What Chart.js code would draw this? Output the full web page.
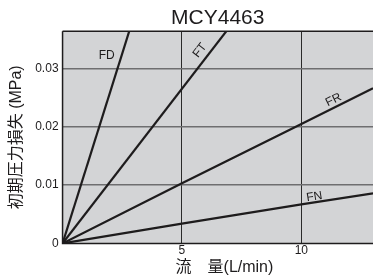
<!DOCTYPE html>
<html><head><meta charset="utf-8">
<script src="https://cdn.jsdelivr.net/npm/chart.js@4.4.1/dist/chart.umd.min.js"></script>
<style>html,body{margin:0;padding:0;background:#fff;}#wrap{width:373px;height:277px;}</style>
</head><body><div id="wrap"><canvas id="c"></canvas></div>
<script>
const seriesNames = ["FD", "FT", "FR", "FN"];
const flowFD = [0, 3];
const dropFD = [0, 0.0391];
const flowFT = [0, 7.5];
const dropFT = [0, 0.0398];
const flowFR = [0, 5, 10, 13];
const dropFR = [0, 0.0103, 0.0205, 0.0266];
const flowFN = [0, 5, 10, 13];
const dropFN = [0, 0.0034, 0.0067, 0.0086];
const xTicks = [0, 5, 10];
const yTicks = [0, 0.01, 0.02, 0.03];
// label anchor points in data units with rotation (degrees)
const labelX = [1.85, 5.75, 11.35, 10.55];
const labelY = [0.0322, 0.0331, 0.0246, 0.0080];
const labelRot = [0, -52, -26, -9];

const flows = [flowFD, flowFT, flowFR, flowFN];
const drops = [dropFD, dropFT, dropFR, dropFN];
const datasets = seriesNames.map((n, i) => ({
  label: n,
  data: flows[i].map((x, j) => ({x, y: drops[i][j]})),
  borderColor: '#1e1c1d', borderWidth: 2.2, pointRadius: 0, fill: false, tension: 0
}));

const fontLatin = '"Liberation Sans", Arial, sans-serif';
const fontJP = '"Liberation Sans", "Noto Sans CJK JP", sans-serif';

const bgPlugin = {
  id: 'bg',
  beforeDraw(chart) {
    const {ctx, chartArea: a} = chart;
    ctx.save(); ctx.fillStyle = '#d3d4d6';
    ctx.fillRect(a.left, a.top, a.right - a.left, a.bottom - a.top);
    ctx.restore();
  },
  afterDatasetsDraw(chart) {
    const {ctx, chartArea: a, scales} = chart;
    ctx.save();
    ctx.strokeStyle = '#1e1c1d'; ctx.lineWidth = 1.5;
    ctx.beginPath(); ctx.moveTo(a.left, a.top); ctx.lineTo(a.right, a.top); ctx.stroke();
    ctx.beginPath(); ctx.moveTo(a.left, a.top); ctx.lineTo(a.left, a.bottom); ctx.lineTo(a.right, a.bottom); ctx.stroke();
    ctx.fillStyle = '#1e1c1d';
    ctx.font = '12px ' + fontLatin;
    ctx.textAlign = 'center'; ctx.textBaseline = 'middle';
    seriesNames.forEach((n, i) => {
      const px = scales.x.getPixelForValue(labelX[i]);
      const py = scales.y.getPixelForValue(labelY[i]);
      ctx.save(); ctx.translate(px, py); ctx.rotate(labelRot[i] * Math.PI / 180);
      ctx.fillText(n, 0, 0); ctx.restore();
    });
    ctx.restore();
  }
};

new Chart(document.getElementById('c'), {
  type: 'line',
  data: {datasets},
  plugins: [bgPlugin],
  options: {
    responsive: true, maintainAspectRatio: false, animation: false,
    layout: {padding: {left: 7, right: 0, top: 0, bottom: 0}},
    plugins: {
      legend: {display: false}, tooltip: {enabled: false},
      title: {display: true, fullSize: false, text: 'MCY4463', color: '#1e1c1d',
        font: {family: fontLatin, size: 21, weight: 'normal'}, padding: {top: 6, bottom: 0}}
    },
    scales: {
      x: {
        type: 'linear', min: 0, max: 13,
        afterBuildTicks: s => { s.ticks = xTicks.map(v => ({value: v})); },
        ticks: {color: '#1e1c1d', font: {family: fontLatin, size: 12}, padding: 0,
          callback: v => v === 0 ? '' : String(v), maxRotation: 0},
        grid: {color: ctx => ctx.tick && ctx.tick.value === 0 ? 'rgba(0,0,0,0)' : '#2a2a2a', lineWidth: 1, drawTicks: false},
        border: {display: false},
        title: {display: true, text: '   流　量(L/min)', color: '#1e1c1d',
          font: {family: fontJP, size: 16}, padding: {top: 0, bottom: 0}}
      },
      y: {
        type: 'linear', min: 0, max: 0.0364,
        afterBuildTicks: s => { s.ticks = yTicks.map(v => ({value: v})); },
        ticks: {color: '#1e1c1d', font: {family: fontLatin, size: 12}, padding: 4,
          callback: v => v === 0 ? '0' : v.toFixed(2)},
        grid: {color: ctx => ctx.tick && ctx.tick.value === 0 ? 'rgba(0,0,0,0)' : '#6e6e70', lineWidth: 1.5, drawTicks: false},
        border: {display: false},
        title: {display: true, text: '初期圧力損失 (MPa)', color: '#1e1c1d',
          font: {family: fontJP, size: 16}, padding: {top: 0, bottom: 5}}
      }
    }
  }
});
</script></body></html>
